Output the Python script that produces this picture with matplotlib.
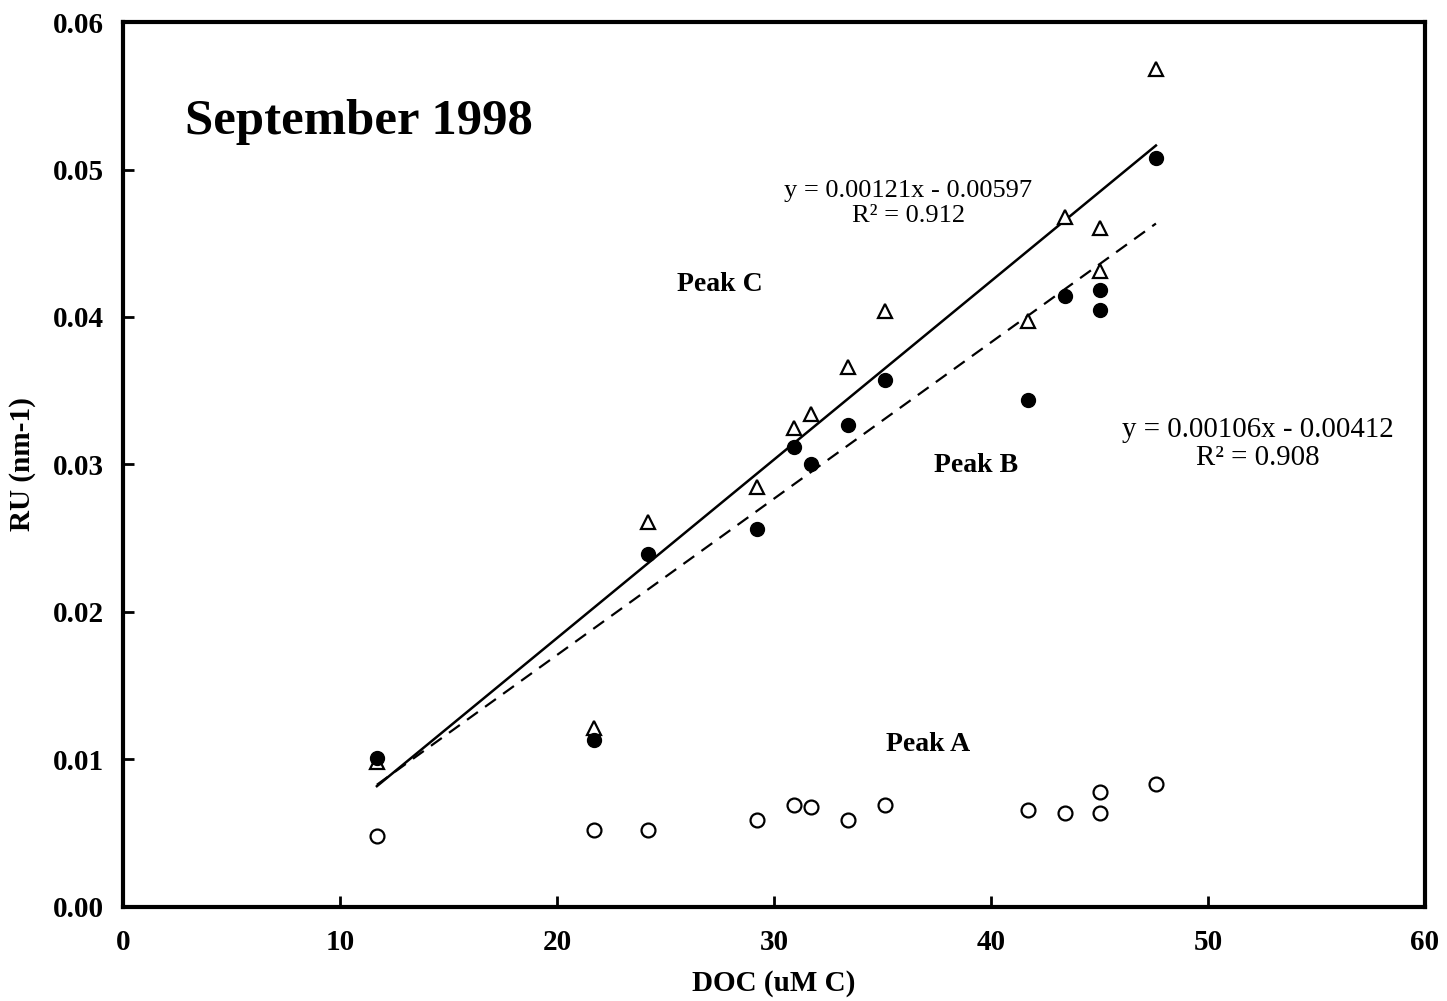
import numpy as np
import matplotlib.pyplot as plt

plt.rcParams['font.family'] = ['Liberation Serif', 'DejaVu Serif']

# DOC (uM C)
doc = [11.7, 21.7, 24.2, 29.2, 30.9, 31.7, 33.4, 35.1, 41.7, 43.4, 45.0, 45.0, 47.6]
# Peak C (open triangles)
peak_c = [0.0098, 0.0121, 0.0261, 0.0285, 0.0325, 0.0334, 0.0366, 0.0404, 0.0397, 0.0468, 0.0460, 0.0431, 0.0568]
# Peak B (filled circles)
peak_b = [0.0101, 0.0113, 0.0239, 0.0256, 0.0312, 0.0300, 0.0327, 0.0357, 0.0344, 0.0414, 0.0418, 0.0405, 0.0508]
# Peak A (open circles)
peak_a = [0.0048, 0.0052, 0.0052, 0.0059, 0.0069, 0.0068, 0.0059, 0.0069, 0.0066, 0.0064, 0.0078, 0.0064, 0.0083]

# regressoes
fit_c = (0.00121, -0.00597)
fit_b = (0.00106, -0.00412)

fig = plt.figure(figsize=(14.47, 10.01), dpi=100)
ax = fig.add_axes([0.085, 0.094, 0.8998, 0.884])

xl = np.array([min(doc), max(doc)])
ax.plot(xl, fit_c[0] * xl + fit_c[1], color='black', lw=1.8)
ax.plot(xl, fit_b[0] * xl + fit_b[1], color='black', lw=1.6, dashes=(6, 4))

ax.plot(doc, peak_c, linestyle='none', marker='^', ms=10, mfc='white', mec='black', mew=1.6)
ax.plot(doc, peak_b, linestyle='none', marker='o', ms=10, mfc='black', mec='black')
ax.plot(doc, peak_a, linestyle='none', marker='o', ms=10, mfc='white', mec='black', mew=1.6)

ax.set_xlim(0, 60)
ax.set_ylim(0, 0.06)
ax.set_xticks(np.arange(0, 61, 10))
ax.set_yticks(np.arange(0, 0.061, 0.01))
ax.set_yticklabels([f"{v:.2f}" for v in np.arange(0, 0.061, 0.01)])
ax.tick_params(direction='in', length=8, width=2, labelsize=21, top=False, right=False)
ax.tick_params(axis='x', pad=16)
ax.tick_params(axis='y', pad=14)
for lab in ax.get_xticklabels() + ax.get_yticklabels():
    lab.set_fontweight('bold')
for s in ax.spines.values():
    s.set_linewidth(3)

ax.set_xlabel("DOC (uM C)", fontsize=21, fontweight='bold', labelpad=10)
ax.set_ylabel("RU (nm-1)", fontsize=21, fontweight='bold', labelpad=12)

ax.text(2.86, 0.0532, "September 1998", fontsize=36.5, fontweight='bold', va='center', ha='left')
ax.text(36.2, 0.0477, "y = 0.00121x - 0.00597\nR² = 0.912", fontsize=19, ha='center', va='center', linespacing=1.2)
ax.text(52.3, 0.0314, "y = 0.00106x - 0.00412\nR² = 0.908", fontsize=20.8, ha='center', va='center', linespacing=1.1)
ax.text(27.5, 0.0422, "Peak C", fontsize=20, fontweight='bold', ha='center', va='center')
ax.text(39.3, 0.0299, "Peak B", fontsize=20, fontweight='bold', ha='center', va='center')
ax.text(37.1, 0.0110, "Peak A", fontsize=20, fontweight='bold', ha='center', va='center')

fig.savefig("out.png", dpi=100)
